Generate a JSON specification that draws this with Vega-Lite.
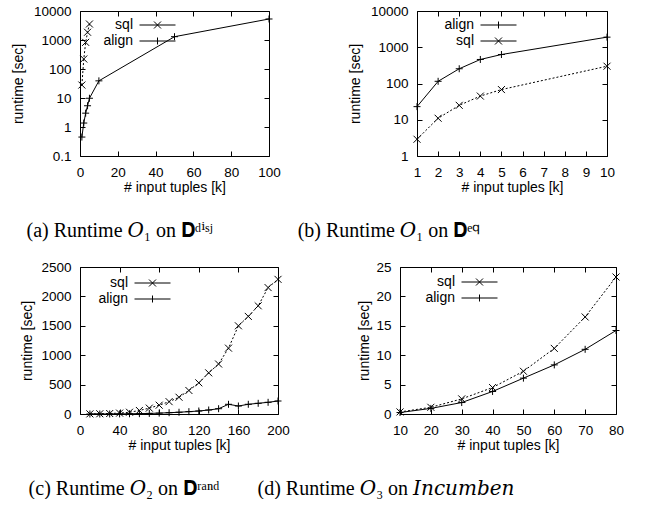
{
  "$schema": "https://vega.github.io/schema/vega-lite/v6.json",
  "background": "white",
  "padding": {"left": 10, "top": 3, "right": 0, "bottom": 0},
  "columns": 1,
  "align": "none",
  "spacing": 18,
  "resolve": {"scale": {"shape": "independent"}, "legend": {"shape": "independent"}},
  "config": {
    "view": {"stroke": "black", "strokeWidth": 1},
    "axis": {"grid": false, "domain": false, "tickColor": "black", "labelColor": "black", "titleColor": "black",
      "labelFont": "Liberation Sans", "titleFont": "Liberation Sans", "labelFontSize": 13.5, "titleFontSize": 14,
      "titleFontWeight": "normal", "tickSize": -5, "labelPadding": 14, "labelFlush": false, "titlePadding": 6},
    "axisX": {"titlePadding": 2},
    "axisY": {"titleBaseline": "bottom"},
    "title": {"font": "Liberation Serif, DejaVu Serif", "fontSize": 20, "fontWeight": "normal", "orient": "bottom", "color": "black", "anchor": "middle", "frame": "group", "offset": 26},
    "legend": {"title": null, "orient": "none", "padding": 0, "symbolSize": 100, "labelAlign": "right", "labelOffset": -31.5,
      "labelFont": "Liberation Sans", "labelFontSize": 14, "labelColor": "black", "rowPadding": 2, "symbolStrokeColor": "black", "symbolStrokeWidth": 1}
  },
  "concat": [
    {
      "spacing": 148, "bounds": "flush",
      "resolve": {"scale": {"shape": "independent"}, "legend": {"shape": "independent"}},
      "hconcat": [
        {
          "width": 189, "height": 145,
          "title": {"text": "(a) Runtime 𝑂₁ on 𝐃ᵈⁱˢʲ", "dx": -55},
          "data": {"values": [
            {"x": 1, "y": 28, "s": "sql"}, {"x": 2, "y": 221, "s": "sql"}, {"x": 3, "y": 830, "s": "sql"}, {"x": 4, "y": 1850, "s": "sql"}, {"x": 5, "y": 3560, "s": "sql"},
            {"x": 1, "y": 0.45, "s": "align"}, {"x": 2, "y": 1.37, "s": "align"}, {"x": 3, "y": 3.0, "s": "align"}, {"x": 4, "y": 5.4, "s": "align"}, {"x": 5, "y": 9.8, "s": "align"},
            {"x": 10, "y": 39, "s": "align"}, {"x": 50, "y": 1300, "s": "align"}, {"x": 100, "y": 5300, "s": "align"}
          ]},
          "encoding": {
            "x": {"field": "x", "type": "quantitative", "scale": {"domain": [0, 100], "nice": false}, "axis": {"values": [0, 20, 40, 60, 80, 100], "title": "# input tuples [k]"}},
            "y": {"field": "y", "type": "quantitative", "scale": {"type": "log", "domain": [0.1, 10000], "nice": false}, "axis": {"values": [0.1, 1, 10, 100, 1000, 10000], "format": "~g", "title": "runtime [sec]", "titleX": -55}}
          },
          "resolve": {"axis": {"x": "independent", "y": "independent"}},
          "layer": [
            {"transform": [{"filter": "datum.s === 'sql'"}], "mark": {"type": "line", "color": "black", "strokeWidth": 1, "strokeDash": [2, 2]}},
            {"transform": [{"filter": "datum.s === 'align'"}], "mark": {"type": "line", "color": "black", "strokeWidth": 1},
             "encoding": {
               "x": {"field": "x", "type": "quantitative", "axis": {"orient": "top", "values": [0, 20, 40, 60, 80, 100], "labels": false, "title": null}},
               "y": {"field": "y", "type": "quantitative", "axis": {"orient": "right", "values": [0.1, 1, 10, 100, 1000, 10000], "labels": false, "title": null}}}},
            {"transform": [{"filter": "datum.s === 'sql'"}], "mark": {"type": "point", "filled": false, "color": "black", "size": 49, "strokeWidth": 1, "opacity": 1, "shape": "M-1,-1L1,1M-1,1L1,-1"},
             "encoding": {"x": {"field": "x", "type": "quantitative", "axis": null}, "y": {"field": "y", "type": "quantitative", "axis": null}}},
            {"transform": [{"filter": "datum.s === 'align'"}], "mark": {"type": "point", "filled": false, "color": "black", "size": 49, "strokeWidth": 1, "opacity": 1, "shape": "M-1,0L1,0M0,-1L0,1"},
             "encoding": {"x": {"field": "x", "type": "quantitative", "axis": null}, "y": {"field": "y", "type": "quantitative", "axis": null}}},
            {"mark": {"type": "point", "filled": false, "color": "black", "opacity": 0},
             "encoding": {
               "x": {"field": "x", "type": "quantitative", "axis": null}, "y": {"field": "y", "type": "quantitative", "axis": null},
               "shape": {"field": "s", "type": "nominal", "scale": {"domain": ["sql", "align"], "range": ["M-3.6,0L3.6,0M-0.7,-0.7L0.7,0.7M-0.7,0.7L0.7,-0.7", "M-3.6,0L3.6,0M0,-0.7L0,0.7"]},
               "legend": {"legendX": 70.5, "legendY": 7,
                 "encode": {"symbols": {
                   "strokeDash": {"value": {"expr": "datum.value === 'sql' ? [2,1] : [1,0]"}},
                   "fill": {"value": "transparent"}, "stroke": {"value": "black"}, "opacity": {"value": 1}}}}}}}
          ]
        },
        {
          "width": 190, "height": 145,
          "title": {"text": "(b) Runtime 𝑂₁ on 𝐃ᵉ𐞥", "dx": -123},
          "data": {"values": [
            {"x": 1, "y": 23, "s": "align"}, {"x": 2, "y": 115, "s": "align"}, {"x": 3, "y": 255, "s": "align"}, {"x": 4, "y": 460, "s": "align"}, {"x": 5, "y": 630, "s": "align"}, {"x": 10, "y": 1900, "s": "align"},
            {"x": 1, "y": 2.9, "s": "sql"}, {"x": 2, "y": 11, "s": "sql"}, {"x": 3, "y": 25, "s": "sql"}, {"x": 4, "y": 45, "s": "sql"}, {"x": 5, "y": 68, "s": "sql"}, {"x": 10, "y": 300, "s": "sql"}
          ]},
          "encoding": {
            "x": {"field": "x", "type": "quantitative", "scale": {"domain": [1, 10], "nice": false}, "axis": {"values": [1, 2, 3, 4, 5, 6, 7, 8, 9, 10], "title": "# input tuples [k]"}},
            "y": {"field": "y", "type": "quantitative", "scale": {"type": "log", "domain": [1, 10000], "nice": false}, "axis": {"values": [1, 10, 100, 1000, 10000], "format": "~g", "title": "runtime [sec]", "titleX": -55}}
          },
          "resolve": {"axis": {"x": "independent", "y": "independent"}},
          "layer": [
            {"transform": [{"filter": "datum.s === 'sql'"}], "mark": {"type": "line", "color": "black", "strokeWidth": 1, "strokeDash": [2, 2]}},
            {"transform": [{"filter": "datum.s === 'align'"}], "mark": {"type": "line", "color": "black", "strokeWidth": 1},
             "encoding": {
               "x": {"field": "x", "type": "quantitative", "axis": {"orient": "top", "values": [1, 2, 3, 4, 5, 6, 7, 8, 9, 10], "labels": false, "title": null}},
               "y": {"field": "y", "type": "quantitative", "axis": {"orient": "right", "values": [1, 10, 100, 1000, 10000], "labels": false, "title": null}}}},
            {"transform": [{"filter": "datum.s === 'sql'"}], "mark": {"type": "point", "filled": false, "color": "black", "size": 49, "strokeWidth": 1, "opacity": 1, "shape": "M-1,-1L1,1M-1,1L1,-1"},
             "encoding": {"x": {"field": "x", "type": "quantitative", "axis": null}, "y": {"field": "y", "type": "quantitative", "axis": null}}},
            {"transform": [{"filter": "datum.s === 'align'"}], "mark": {"type": "point", "filled": false, "color": "black", "size": 49, "strokeWidth": 1, "opacity": 1, "shape": "M-1,0L1,0M0,-1L0,1"},
             "encoding": {"x": {"field": "x", "type": "quantitative", "axis": null}, "y": {"field": "y", "type": "quantitative", "axis": null}}},
            {"mark": {"type": "point", "filled": false, "color": "black", "opacity": 0},
             "encoding": {
               "x": {"field": "x", "type": "quantitative", "axis": null}, "y": {"field": "y", "type": "quantitative", "axis": null},
               "shape": {"field": "s", "type": "nominal", "scale": {"domain": ["align", "sql"], "range": ["M-3.6,0L3.6,0M0,-0.7L0,0.7", "M-3.6,0L3.6,0M-0.7,-0.7L0.7,0.7M-0.7,0.7L0.7,-0.7"]},
               "legend": {"legendX": 74.5, "legendY": 7,
                 "encode": {"symbols": {
                   "strokeDash": {"value": {"expr": "datum.value === 'sql' ? [2,1] : [1,0]"}},
                   "fill": {"value": "transparent"}, "stroke": {"value": "black"}, "opacity": {"value": 1}}}}}}}
          ]
        }
      ]
    },
    {
      "spacing": 122, "bounds": "flush",
      "resolve": {"scale": {"shape": "independent"}, "legend": {"shape": "independent"}},
      "hconcat": [
        {
          "width": 198, "height": 147,
          "title": {"text": "(c) Runtime 𝑂₂ on 𝐃ʳᵃⁿᵈ", "dx": -55},
          "data": {"values": [
            {"x": 10, "y": 2, "s": "sql"}, {"x": 20, "y": 4, "s": "sql"}, {"x": 30, "y": 8, "s": "sql"}, {"x": 40, "y": 15, "s": "sql"}, {"x": 50, "y": 30, "s": "sql"},
            {"x": 60, "y": 60, "s": "sql"}, {"x": 70, "y": 100, "s": "sql"}, {"x": 80, "y": 150, "s": "sql"}, {"x": 90, "y": 210, "s": "sql"}, {"x": 100, "y": 285, "s": "sql"},
            {"x": 110, "y": 400, "s": "sql"}, {"x": 120, "y": 530, "s": "sql"}, {"x": 130, "y": 700, "s": "sql"}, {"x": 140, "y": 850, "s": "sql"}, {"x": 150, "y": 1120, "s": "sql"},
            {"x": 160, "y": 1500, "s": "sql"}, {"x": 170, "y": 1660, "s": "sql"}, {"x": 180, "y": 1840, "s": "sql"}, {"x": 190, "y": 2150, "s": "sql"}, {"x": 200, "y": 2290, "s": "sql"},
            {"x": 10, "y": 0.3, "s": "align"}, {"x": 20, "y": 0.5, "s": "align"}, {"x": 30, "y": 1, "s": "align"}, {"x": 40, "y": 2, "s": "align"}, {"x": 50, "y": 4, "s": "align"},
            {"x": 60, "y": 6, "s": "align"}, {"x": 70, "y": 10, "s": "align"}, {"x": 80, "y": 15, "s": "align"}, {"x": 90, "y": 22, "s": "align"}, {"x": 100, "y": 30, "s": "align"},
            {"x": 110, "y": 40, "s": "align"}, {"x": 120, "y": 51, "s": "align"}, {"x": 130, "y": 68, "s": "align"}, {"x": 140, "y": 90, "s": "align"}, {"x": 150, "y": 165, "s": "align"},
            {"x": 160, "y": 136, "s": "align"}, {"x": 170, "y": 165, "s": "align"}, {"x": 180, "y": 182, "s": "align"}, {"x": 190, "y": 199, "s": "align"}, {"x": 200, "y": 221, "s": "align"}
          ]},
          "encoding": {
            "x": {"field": "x", "type": "quantitative", "scale": {"domain": [0, 200], "nice": false}, "axis": {"values": [0, 40, 80, 120, 160, 200], "title": "# input tuples [k]"}},
            "y": {"field": "y", "type": "quantitative", "scale": {"domain": [0, 2500], "nice": false}, "axis": {"values": [0, 500, 1000, 1500, 2000, 2500], "format": "d", "title": "runtime [sec]", "titleX": -46}}
          },
          "resolve": {"axis": {"x": "independent", "y": "independent"}},
          "layer": [
            {"transform": [{"filter": "datum.s === 'sql'"}], "mark": {"type": "line", "color": "black", "strokeWidth": 1, "strokeDash": [2, 2]}},
            {"transform": [{"filter": "datum.s === 'align'"}], "mark": {"type": "line", "color": "black", "strokeWidth": 1},
             "encoding": {
               "x": {"field": "x", "type": "quantitative", "axis": {"orient": "top", "values": [0, 40, 80, 120, 160, 200], "labels": false, "title": null}},
               "y": {"field": "y", "type": "quantitative", "axis": {"orient": "right", "values": [0, 500, 1000, 1500, 2000, 2500], "labels": false, "title": null}}}},
            {"transform": [{"filter": "datum.s === 'sql'"}], "mark": {"type": "point", "filled": false, "color": "black", "size": 49, "strokeWidth": 1, "opacity": 1, "shape": "M-1,-1L1,1M-1,1L1,-1"},
             "encoding": {"x": {"field": "x", "type": "quantitative", "axis": null}, "y": {"field": "y", "type": "quantitative", "axis": null}}},
            {"transform": [{"filter": "datum.s === 'align'"}], "mark": {"type": "point", "filled": false, "color": "black", "size": 49, "strokeWidth": 1, "opacity": 1, "shape": "M-1,0L1,0M0,-1L0,1"},
             "encoding": {"x": {"field": "x", "type": "quantitative", "axis": null}, "y": {"field": "y", "type": "quantitative", "axis": null}}},
            {"mark": {"type": "point", "filled": false, "color": "black", "opacity": 0},
             "encoding": {
               "x": {"field": "x", "type": "quantitative", "axis": null}, "y": {"field": "y", "type": "quantitative", "axis": null},
               "shape": {"field": "s", "type": "nominal", "scale": {"domain": ["sql", "align"], "range": ["M-3.6,0L3.6,0M-0.7,-0.7L0.7,0.7M-0.7,0.7L0.7,-0.7", "M-3.6,0L3.6,0M0,-0.7L0,0.7"]},
               "legend": {"legendX": 65.5, "legendY": 9,
                 "encode": {"symbols": {
                   "strokeDash": {"value": {"expr": "datum.value === 'sql' ? [2,1] : [1,0]"}},
                   "fill": {"value": "transparent"}, "stroke": {"value": "black"}, "opacity": {"value": 1}}}}}}}
          ]
        },
        {
          "width": 216, "height": 147,
          "title": {"text": "(d) Runtime 𝑂₃ on 𝐼𝑛𝑐𝑢𝑚𝑏𝑒𝑛", "dx": -122},
          "data": {"values": [
            {"x": 10, "y": 0.35, "s": "sql"}, {"x": 20, "y": 1.14, "s": "sql"}, {"x": 30, "y": 2.57, "s": "sql"}, {"x": 40, "y": 4.5, "s": "sql"},
            {"x": 50, "y": 7.27, "s": "sql"}, {"x": 60, "y": 11.16, "s": "sql"}, {"x": 70, "y": 16.5, "s": "sql"}, {"x": 80, "y": 23.3, "s": "sql"},
            {"x": 10, "y": 0.25, "s": "align"}, {"x": 20, "y": 0.95, "s": "align"}, {"x": 30, "y": 1.95, "s": "align"}, {"x": 40, "y": 3.83, "s": "align"},
            {"x": 50, "y": 6.1, "s": "align"}, {"x": 60, "y": 8.35, "s": "align"}, {"x": 70, "y": 11.0, "s": "align"}, {"x": 80, "y": 14.2, "s": "align"}
          ]},
          "encoding": {
            "x": {"field": "x", "type": "quantitative", "scale": {"domain": [10, 80], "nice": false}, "axis": {"values": [10, 20, 30, 40, 50, 60, 70, 80], "title": "# input tuples [k]"}},
            "y": {"field": "y", "type": "quantitative", "scale": {"domain": [0, 25], "nice": false}, "axis": {"values": [0, 5, 10, 15, 20, 25], "title": "runtime [sec]", "titleX": -29}}
          },
          "resolve": {"axis": {"x": "independent", "y": "independent"}},
          "layer": [
            {"transform": [{"filter": "datum.s === 'sql'"}], "mark": {"type": "line", "color": "black", "strokeWidth": 1, "strokeDash": [2, 2]}},
            {"transform": [{"filter": "datum.s === 'align'"}], "mark": {"type": "line", "color": "black", "strokeWidth": 1},
             "encoding": {
               "x": {"field": "x", "type": "quantitative", "axis": {"orient": "top", "values": [10, 20, 30, 40, 50, 60, 70, 80], "labels": false, "title": null}},
               "y": {"field": "y", "type": "quantitative", "axis": {"orient": "right", "values": [0, 5, 10, 15, 20, 25], "labels": false, "title": null}}}},
            {"transform": [{"filter": "datum.s === 'sql'"}], "mark": {"type": "point", "filled": false, "color": "black", "size": 49, "strokeWidth": 1, "opacity": 1, "shape": "M-1,-1L1,1M-1,1L1,-1"},
             "encoding": {"x": {"field": "x", "type": "quantitative", "axis": null}, "y": {"field": "y", "type": "quantitative", "axis": null}}},
            {"transform": [{"filter": "datum.s === 'align'"}], "mark": {"type": "point", "filled": false, "color": "black", "size": 49, "strokeWidth": 1, "opacity": 1, "shape": "M-1,0L1,0M0,-1L0,1"},
             "encoding": {"x": {"field": "x", "type": "quantitative", "axis": null}, "y": {"field": "y", "type": "quantitative", "axis": null}}},
            {"mark": {"type": "point", "filled": false, "color": "black", "opacity": 0},
             "encoding": {
               "x": {"field": "x", "type": "quantitative", "axis": null}, "y": {"field": "y", "type": "quantitative", "axis": null},
               "shape": {"field": "s", "type": "nominal", "scale": {"domain": ["sql", "align"], "range": ["M-3.6,0L3.6,0M-0.7,-0.7L0.7,0.7M-0.7,0.7L0.7,-0.7", "M-3.6,0L3.6,0M0,-0.7L0,0.7"]},
               "legend": {"legendX": 72.5, "legendY": 8,
                 "encode": {"symbols": {
                   "strokeDash": {"value": {"expr": "datum.value === 'sql' ? [2,1] : [1,0]"}},
                   "fill": {"value": "transparent"}, "stroke": {"value": "black"}, "opacity": {"value": 1}}}}}}}
          ]
        }
      ]
    }
  ]
}
